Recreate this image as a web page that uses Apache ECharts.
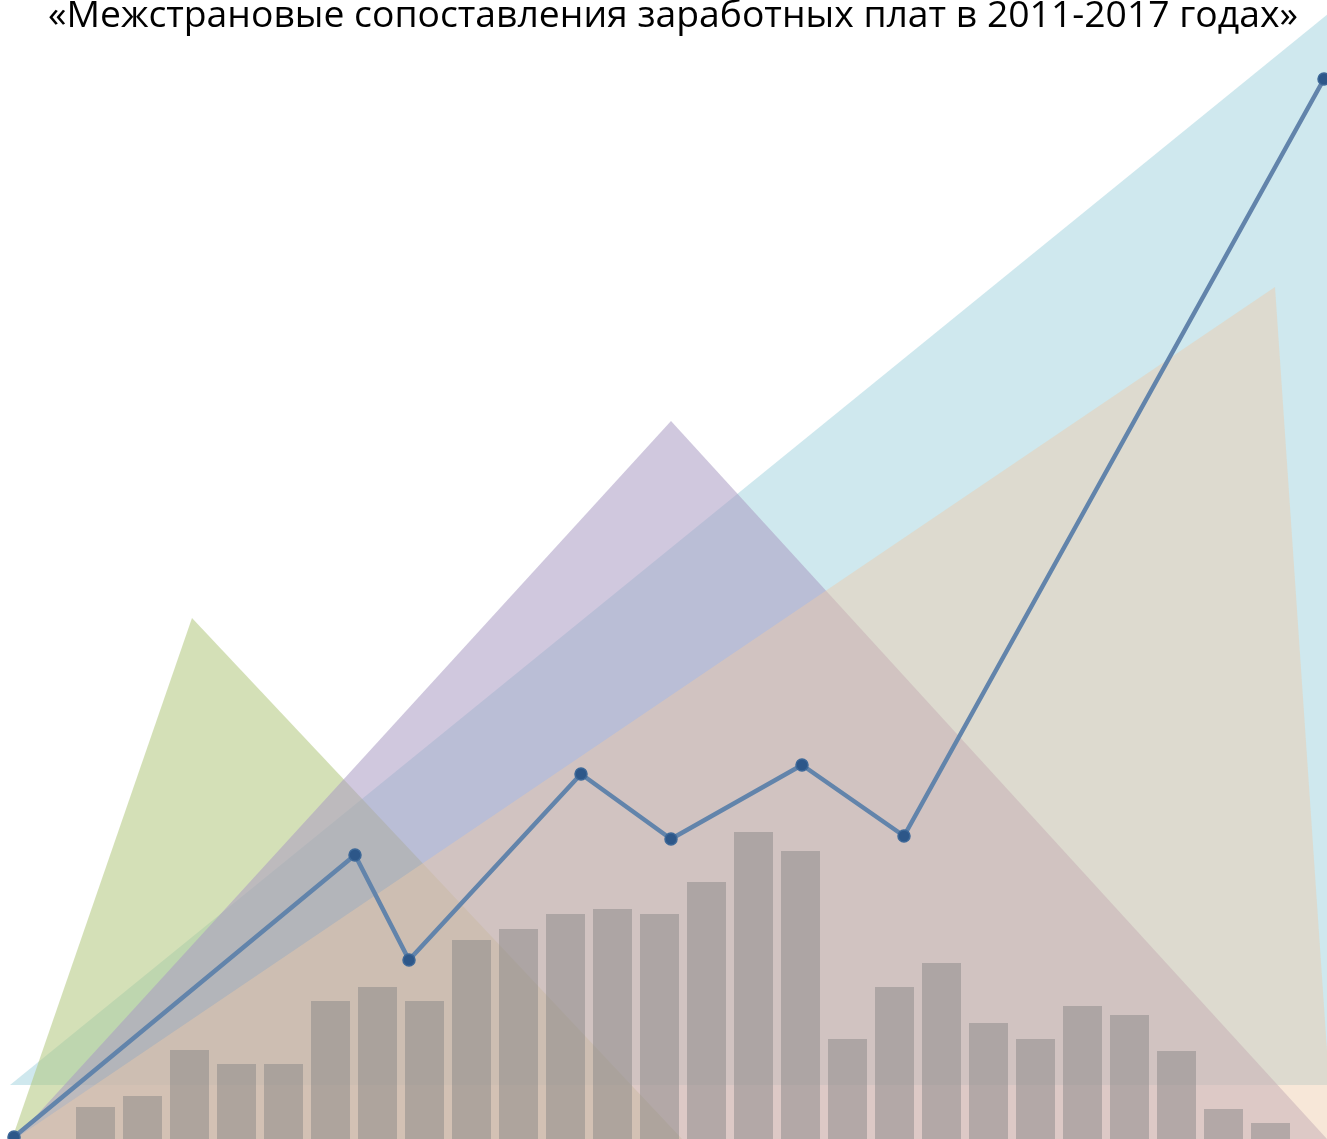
<!DOCTYPE html>
<html>
<head>
<meta charset="utf-8">
<script src="https://cdn.jsdelivr.net/npm/echarts@6/dist/echarts.min.js"></script>
<style>
html,body{margin:0;padding:0;background:#fff;}
#chart{width:1327px;height:1139px;}
</style>
</head>
<body>
<div id="chart"></div>
<script>
// ---- data ----
const titleText = '«Межстрановые сопоставления заработных плат в 2011-2017 годах»';

// bar categories and values
const barCategories = ['1','2','3','4','5','6','7','8','9','10','11','12','13','14','15','16','17','18','19','20','21','22','23','24','25','26'];
const barValues = [3.2, 4.3, 8.9, 7.5, 7.5, 13.8, 15.2, 13.8, 19.9, 21.0, 22.5, 23.0, 22.5, 25.7, 30.7, 28.8, 10.0, 15.2, 17.6, 11.6, 10.0, 13.3, 12.4, 8.8, 3.0, 1.6];

// line points [x, y]
const lineX = [1.4, 35.5, 40.9, 58.1, 67.1, 80.2, 90.4, 132.4];
const lineY = [0.2, 28.4, 17.9, 36.5, 30.0, 37.4, 30.3, 106.0];

// decorative triangles, vertices [x, y]
const blueTriangle   = [[1.0, 5.4], [134.5, 113.9], [134.5, 5.4]];
const greenTriangle  = [[1.2, 0], [19.2, 52.1], [68.2, 0]];
const purpleTriangle = [[1.5, 0], [67.1, 71.8], [132.7, 0]];
const tanTriangle    = [[1.5, 0], [127.5, 85.2], [133.3, 0]];

const X_MAX = 132.7, Y_MAX = 113.9;

function triSeries(tri, color, z) {
  return {
    type: 'custom',
    xAxisIndex: 0, yAxisIndex: 0,
    z: z,
    silent: true,
    clip: false,
    data: [[tri[0][0], tri[0][1]]],
    renderItem: function (params, api) {
      const pts = tri.map(p => api.coord(p));
      return { type: 'polygon', shape: { points: pts }, style: { fill: color, stroke: null } };
    }
  };
}

const chart = echarts.init(document.getElementById('chart'), null, { renderer: 'canvas' });
chart.setOption({
  backgroundColor: '#ffffff',
  animation: false,
  title: {
    text: titleText,
    left: 43,
    top: -7,
    textStyle: { fontFamily: 'Open Sans', fontSize: 37.3, fontWeight: 'normal', color: '#000000' }
  },
  grid: [
    { left: 0, right: 0, top: 0, bottom: 0 },
    { left: 72, right: 33, top: 0, bottom: 0 }
  ],
  xAxis: [
    { type: 'value', gridIndex: 0, min: 0, max: X_MAX, show: false },
    { type: 'category', gridIndex: 1, data: barCategories, show: false }
  ],
  yAxis: [
    { type: 'value', gridIndex: 0, min: 0, max: Y_MAX, show: false },
    { type: 'value', gridIndex: 1, min: 0, max: Y_MAX, show: false }
  ],
  series: [
    triSeries(blueTriangle,   'rgba(159,209,221,0.5)', 1),
    triSeries(greenTriangle,  'rgba(177,199,124,0.55)', 2),
    triSeries(purpleTriangle, 'rgba(170,155,195,0.55)', 3),
    triSeries(tanTriangle,    'rgba(238,201,169,0.45)', 4),
    {
      type: 'bar',
      xAxisIndex: 1, yAxisIndex: 1,
      z: 5,
      barWidth: 39,
      data: barValues,
      itemStyle: { color: 'rgba(128,128,128,0.45)' },
      silent: true
    },
    {
      type: 'line',
      xAxisIndex: 0, yAxisIndex: 0,
      z: 6,
      data: lineX.map((x, i) => [x, lineY[i]]),
      symbol: 'circle',
      symbolSize: 12,
      clip: false,
      lineStyle: { color: '#6284ab', width: 4.5 },
      itemStyle: { color: '#2d5789', borderColor: '#3d6898', borderWidth: 1.5 }
    }
  ]
});
</script>
</body>
</html>
